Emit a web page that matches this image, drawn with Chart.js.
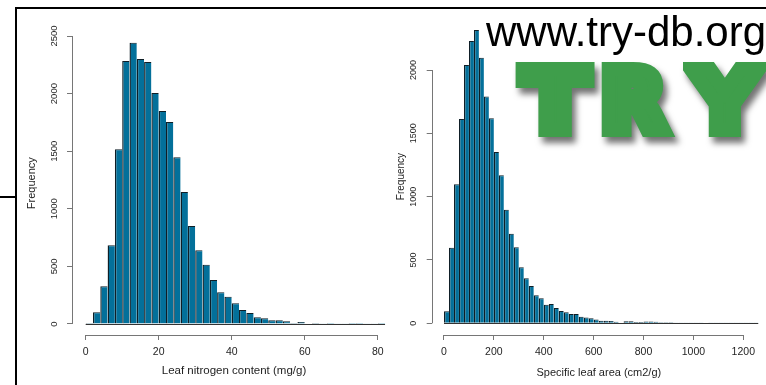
<!DOCTYPE html>
<html><head><meta charset="utf-8">
<script src="https://cdn.jsdelivr.net/npm/chart.js@4.4.1/dist/chart.umd.min.js"></script>
<style>
html,body{margin:0;padding:0;background:#fff;overflow:hidden;width:766px;height:385px;}
#wrap{position:relative;width:766px;height:385px;overflow:hidden;background:#fff;}
canvas{position:absolute;top:0;}
#c1{left:0}
#c2{left:380px}
.line{position:absolute;background:#000}
#url{position:absolute;left:486px;top:11px;font:42px/42px "Liberation Sans",Arial,sans-serif;color:#000;white-space:nowrap}
#logo{position:absolute;left:0;top:0;width:766px;height:385px;filter:drop-shadow(4px 6px 3px rgba(0,0,0,0.55))}
.L{position:absolute;font:bold 84px/84px "DejaVu Sans",sans-serif;color:#3f9e4b;-webkit-text-stroke:14px #3f9e4b;top:59px;transform-origin:0 0}
</style>
</head><body>
<div id="wrap">
  <canvas id="c1" width="410" height="385"></canvas>
  <canvas id="c2" width="386" height="385"></canvas>
  <div class="line" style="left:16px;top:7px;width:750px;height:2px"></div>
  <div class="line" style="left:15px;top:7px;width:2px;height:378px"></div>
  <div class="line" style="left:0;top:196px;width:16px;height:2px"></div>
  <div id="logo">
    <span class="L" style="left:523px;transform:scaleX(1.12)">T</span>
    <span class="L" style="left:601px;transform:scaleX(1.0)">R</span>
    <span class="L" style="left:692px;transform:scaleX(1.08)">Y</span>
  </div>
  <div id="url">www.try-db.org</div>
</div>
<script>
// ---- Data: Leaf nitrogen content (mg/g), bin starts (width 2) ----
const nitrogenBins = [0,2,4,6,8,10,12,14,16,18,20,22,24,26,28,30,32,34,36,38,40,42,44,46,48,50,52,54,56,58,60,62,64,66,68,70,72,74,76,78,80];
const nitrogenCounts = [8,101,327,683,1516,2283,2442,2300,2274,2005,1849,1753,1447,1146,851,640,515,382,275,237,180,122,95,58,49,33,32,24,8,17,4,8,2,1,2,3,1,1,2,3,1];
const nitrogenXTicks = [0,20,40,60,80];
const nitrogenYTicks = [0,500,1000,1500,2000,2500];

// ---- Data: Specific leaf area (cm2/g), bin starts (width 20) ----
const slaBins = [0,20,40,60,80,100,120,140,160,180,200,220,240,260,280,300,320,340,360,380,400,420,440,460,480,500,520,540,560,580,600,620,640,660,680,700,720,740,760,780,800,820,840,860,880,900,920,940,960,980,1000,1020,1040,1060,1080,1100,1120,1140,1160,1180,1200,1220,1240];
const slaCounts = [96,597,1098,1614,2040,2230,2317,2096,1790,1619,1353,1169,896,708,600,442,355,295,221,197,146,152,120,98,87,74,74,51,45,40,30,21,20,19,12,5,17,16,10,10,15,15,12,9,9,8,7,3,2,2,3,2,4,3,2,2,1,2,3,1,2,1,1];
const slaXTicks = [0,200,400,600,800,1000,1200];
const slaYTicks = [0,500,1000,1500,2000];

const BAR_FILL = '#03709a';
const BAR_EDGE = '#0f1e26';
const AXIS_COL = '#767676';
const TEXT_COL = '#1e1e1e';
const FONT = '"Liberation Sans", Arial, sans-serif';

const rAxes = {
  id: 'rAxes',
  afterDraw(chart, args, o) {
    const {ctx, chartArea, scales: {x, y}} = chart;
    ctx.save();
    // zero-height bar outline (baseline of histogram)
    ctx.strokeStyle = '#333';
    ctx.lineWidth = 1;
    const yb = Math.round(y.getPixelForValue(0)) + 0.5;
    ctx.beginPath();
    ctx.moveTo(x.getPixelForValue(o.first), yb);
    ctx.lineTo(x.getPixelForValue(o.last), yb);
    ctx.stroke();
    // y axis line (from first to last tick)
    ctx.strokeStyle = AXIS_COL;
    const ax = Math.round(chartArea.left) + 0.5;
    ctx.beginPath();
    ctx.moveTo(ax, y.getPixelForValue(o.yTicks[0]));
    ctx.lineTo(ax, y.getPixelForValue(o.yTicks[o.yTicks.length - 1]));
    ctx.stroke();
    // x axis line
    const ay = Math.round(chartArea.bottom) + 0.5;
    ctx.beginPath();
    ctx.moveTo(x.getPixelForValue(o.xTicks[0]), ay);
    ctx.lineTo(x.getPixelForValue(o.xTicks[o.xTicks.length - 1]), ay);
    ctx.stroke();
    // rotated y tick labels
    ctx.fillStyle = TEXT_COL;
    ctx.font = o.yFont + 'px ' + FONT;
    ctx.textAlign = 'center';
    ctx.textBaseline = 'middle';
    o.yTicks.forEach(v => {
      ctx.save();
      ctx.translate(chartArea.left - o.yLabelGap, y.getPixelForValue(v));
      ctx.rotate(-Math.PI / 2);
      ctx.fillText(String(v), 0, 0);
      ctx.restore();
    });
    ctx.restore();
  }
};

function makeHist(canvasId, bins, counts, xTicks, yTicks, cfg) {
  const w = bins[1] - bins[0];
  const data = bins.map((b, i) => ({x: b + w / 2, y: counts[i]}));
  return new Chart(document.getElementById(canvasId), {
    type: 'bar',
    data: {datasets: [{
      data,
      backgroundColor: BAR_FILL,
      borderColor: BAR_EDGE,
      borderWidth: {top: 1, left: 1.4, right: 0, bottom: 0},
      borderSkipped: 'bottom',
      barPercentage: 1,
      categoryPercentage: 1,
      inflateAmount: 0
    }]},
    plugins: [rAxes],
    options: {
      responsive: false,
      animation: false,
      devicePixelRatio: 1,
      layout: {padding: cfg.padding},
      plugins: {
        legend: {display: false},
        tooltip: {enabled: false},
        rAxes: {first: bins[0], last: bins[bins.length - 1] + w, xTicks, yTicks, yFont: cfg.yFont, yLabelGap: cfg.yLabelGap}
      },
      scales: {
        x: {
          type: 'linear',
          offset: false,
          min: cfg.xMin, max: cfg.xMax,
          afterBuildTicks: s => { s.ticks = xTicks.map(v => ({value: v})); },
          afterFit: s => { s.height = 385 - cfg.bottom; },
          grid: {offset: false, drawOnChartArea: false, drawTicks: true, tickLength: 5, color: AXIS_COL, lineWidth: 1},
          border: {display: false},
          ticks: {color: TEXT_COL, font: {family: FONT, size: cfg.xFont}, padding: 6, maxRotation: 0, autoSkip: false,
                  callback: v => String(v)},
          title: {display: true, text: cfg.xTitle, color: TEXT_COL, font: {family: FONT, size: cfg.xTitleFont}, padding: {top: 0, bottom: cfg.xTitlePad}}
        },
        y: {
          type: 'linear',
          min: cfg.yMin, max: cfg.yMax,
          afterBuildTicks: s => { s.ticks = yTicks.map(v => ({value: v})); },
          afterFit: s => { s.width = cfg.left; },
          grid: {drawOnChartArea: false, drawTicks: true, tickLength: 5, color: AXIS_COL, lineWidth: 1},
          border: {display: false},
          ticks: {display: false},
          title: {display: true, text: 'Frequency', color: TEXT_COL, font: {family: FONT, size: cfg.yTitleFont}, padding: {top: cfg.yTitlePad, bottom: 0}}
        }
      }
    }
  });
}

makeHist('c1', nitrogenBins, nitrogenCounts, nitrogenXTicks, nitrogenYTicks, {
  padding: {top: 31.4, right: 14, left: 0, bottom: 0},
  left: 72, bottom: 335,
  xMin: -3.75, xMax: 85, yMin: -95.5, yMax: 2540,
  xFont: 10.5, xTitleFont: 11.5, xTitlePad: 7.5, xTitle: 'Leaf nitrogen content (mg/g)',
  yFont: 9.5, yLabelGap: 18, yTitleFont: 11, yTitlePad: 25.4
});

makeHist('c2', slaBins, slaCounts, slaXTicks, slaYTicks, {
  padding: {top: 18.1, right: 0, left: 0, bottom: 0},
  left: 51.7, bottom: 335,
  xMin: -49.3, xMax: 1291, yMin: -92.4, yMax: 2410,
  xFont: 10.5, xTitleFont: 11, xTitlePad: 5, xTitle: 'Specific leaf area (cm2/g)',
  yFont: 9, yLabelGap: 18, yTitleFont: 10, yTitlePad: 15.7
});
</script>
</body></html>
